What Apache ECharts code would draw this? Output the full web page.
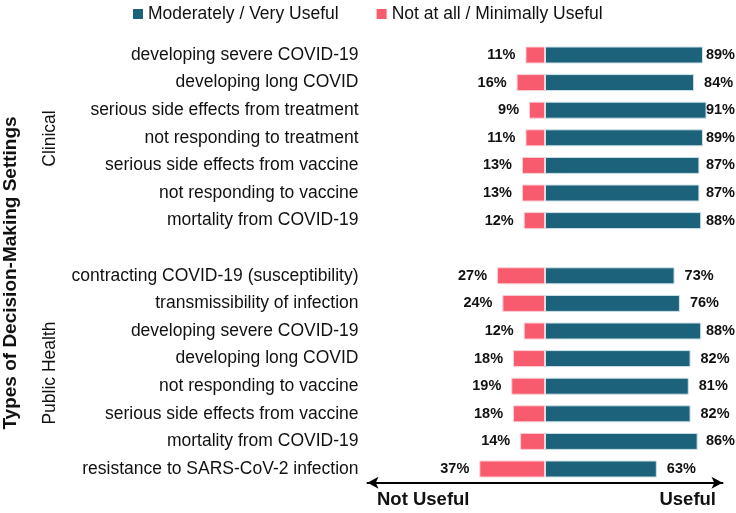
<!DOCTYPE html>
<html><head><meta charset="utf-8">
<script src="https://cdn.jsdelivr.net/npm/echarts@6/dist/echarts.min.js"></script>
<style>html,body{margin:0;padding:0;background:#fff}#c{width:736px;height:513px}</style>
</head><body><div id="c"></div>
<script>
var categories = [
  'developing severe COVID-19','developing long COVID','serious side effects from treatment',
  'not responding to treatment','serious side effects from vaccine','not responding to vaccine',
  'mortality from COVID-19','',
  'contracting COVID-19 (susceptibility)','transmissibility of infection','developing severe COVID-19',
  'developing long COVID','not responding to vaccine','serious side effects from vaccine',
  'mortality from COVID-19','resistance to SARS-CoV-2 infection'
];
var usefulValues = [89,84,91,89,87,87,88,null,73,76,88,82,81,82,86,63];
var notUsefulValues = [11,16,9,11,13,13,12,null,27,24,12,18,19,18,14,37];
var seriesNames = ['Moderately / Very Useful','Not at all / Minimally Useful'];

var chart = echarts.init(document.getElementById('c'));
var font = 'Liberation Sans, Arial, sans-serif';
chart.setOption({
  animation: false,
  textStyle: {fontFamily: font},
  legend: {
    data: seriesNames, left: 128, top: 0, icon: 'rect', itemWidth: 10, itemHeight: 10, itemGap: 38,
    itemStyle: {borderWidth: 0},
    textStyle: {fontSize: 17.5, color: '#111', fontFamily: font}
  },
  grid: {left: 367.5, right: 13.5, top: 41.2, bottom: 30.2, containLabel: false},
  xAxis: {
    type: 'value', min: -100, max: 100,
    axisLine: {show: true, onZero: false, symbol: ['arrow','arrow'], symbolSize: [9, 11],
      lineStyle: {color: '#000', width: 2}},
    axisTick: {show: false}, axisLabel: {show: false}, splitLine: {show: false}
  },
  yAxis: {
    type: 'category', data: categories, inverse: true,
    axisLine: {show: false}, axisTick: {show: false},
    axisLabel: {fontSize: 17.5, color: '#111', margin: 9, fontFamily: font}
  },
  series: [
    {
      name: seriesNames[0], type: 'bar', stack: 't', barWidth: 17,
      data: usefulValues,
      itemStyle: {color: '#1b627a', borderColor: '#cfe3ea', borderWidth: 1},
      label: {show: true, position: 'right', distance: 10, fontSize: 14.5, fontWeight: 'bold', color: '#111',
        formatter: function(p){return p.value == null ? '' : p.value + '%';}},
      labelLayout: function(params){
        var r = params.labelRect;
        if (r.x + r.width > 735) {
          return {x: 735 - r.width, y: r.y + r.height / 2, align: 'left', verticalAlign: 'middle'};
        }
        return {};
      }
    },
    {
      name: seriesNames[1], type: 'bar', stack: 't', barWidth: 17,
      data: notUsefulValues.map(function(v){return v == null ? null : -v;}),
      itemStyle: {color: '#f85a6e', borderColor: '#fbd0d6', borderWidth: 1},
      label: {show: true, position: 'left', distance: 10, fontSize: 14.5, fontWeight: 'bold', color: '#111',
        formatter: function(p){return p.value == null ? '' : Math.abs(p.value) + '%';}}
    }
  ],
  graphic: [
    {type: 'text', x: 11, y: 273, rotation: Math.PI/2,
      style: {text: 'Types of Decision-Making Settings', font: 'bold 19px ' + font, fill: '#111', align: 'center', verticalAlign: 'middle'}},
    {type: 'text', x: 50, y: 138.5, rotation: Math.PI/2,
      style: {text: 'Clinical', font: '17.5px ' + font, fill: '#111', align: 'center', verticalAlign: 'middle'}},
    {type: 'text', x: 50, y: 373, rotation: Math.PI/2,
      style: {text: 'Public Health', font: '17.5px ' + font, fill: '#111', align: 'center', verticalAlign: 'middle'}},
    {type: 'text', x: 377, y: 500,
      style: {text: 'Not Useful', font: 'bold 18.5px ' + font, fill: '#111', align: 'left', verticalAlign: 'middle'}},
    {type: 'text', x: 716, y: 500,
      style: {text: 'Useful', font: 'bold 18.5px ' + font, fill: '#111', align: 'right', verticalAlign: 'middle'}}
  ]
});
</script></body></html>
